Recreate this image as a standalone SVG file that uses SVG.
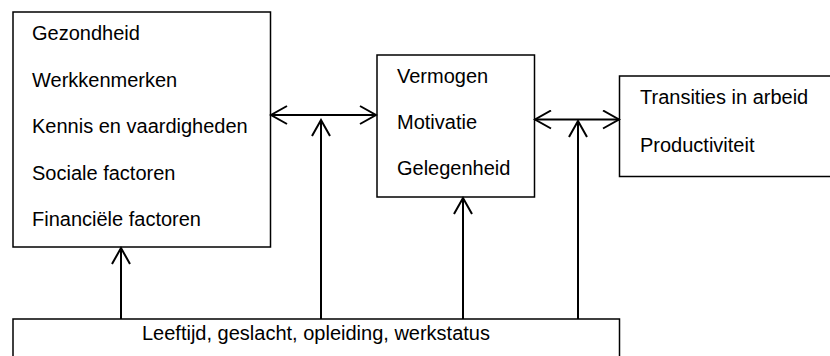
<svg xmlns="http://www.w3.org/2000/svg" width="830" height="356" viewBox="0 0 830 356">
<style>
.box{fill:#fff;stroke:#000;stroke-width:1.5}
.t{font-family:"Liberation Sans",Arial,sans-serif;font-size:20px;fill:#000}
.c{fill:none;stroke:#000;stroke-width:2}
</style>
<defs>
<marker id="ah" viewBox="0 0 20 20" refX="18" refY="10" markerWidth="20" markerHeight="20" markerUnits="userSpaceOnUse" orient="auto-start-reverse">
<path d="M2,1 L18,10 L2,19" fill="none" stroke="#000" stroke-width="2"/>
</marker>
</defs>
<rect width="830" height="356" fill="#fff"/>
<g id="factoren">
<rect class="box" x="13" y="12" width="257.5" height="235"/>
<text class="t" x="32" y="40">Gezondheid</text>
<text class="t" x="32" y="86.5">Werkkenmerken</text>
<text class="t" x="32" y="133">Kennis en vaardigheden</text>
<text class="t" x="32" y="179.5">Sociale factoren</text>
<text class="t" x="32" y="226">Financiële factoren</text>
</g>
<g id="vmg">
<rect class="box" x="377" y="55" width="157.5" height="142"/>
<text class="t" x="397" y="83">Vermogen</text>
<text class="t" x="397" y="129">Motivatie</text>
<text class="t" x="397" y="175">Gelegenheid</text>
</g>
<g id="uitkomsten">
<rect class="box" x="619.5" y="76" width="220" height="100.5"/>
<text class="t" x="640" y="104">Transities in arbeid</text>
<text class="t" x="640" y="151.5">Productiviteit</text>
</g>
<g id="achtergrond">
<rect class="box" x="13" y="319" width="606.5" height="50"/>
<text class="t" x="316" y="340" text-anchor="middle">Leeftijd, geslacht, opleiding, werkstatus</text>
</g>
<g id="connectors">
<line class="c" x1="271" y1="115" x2="376" y2="115" marker-start="url(#ah)" marker-end="url(#ah)"/>
<line class="c" x1="535" y1="119.5" x2="619" y2="119.5" marker-start="url(#ah)" marker-end="url(#ah)"/>
<line class="c" x1="121" y1="319" x2="121" y2="248" marker-end="url(#ah)"/>
<line class="c" x1="321" y1="319" x2="321" y2="120" marker-end="url(#ah)"/>
<line class="c" x1="463" y1="319" x2="463" y2="198" marker-end="url(#ah)"/>
<line class="c" x1="578" y1="319" x2="578" y2="121" marker-end="url(#ah)"/>
</g>
</svg>
